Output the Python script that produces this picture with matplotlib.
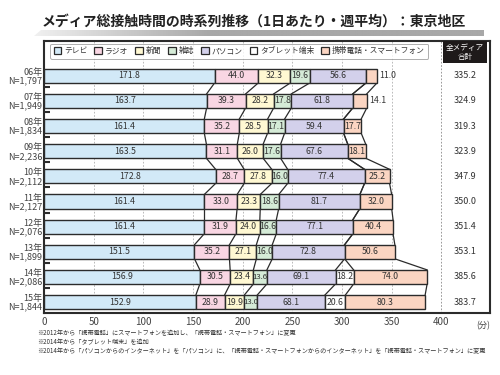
import numpy as np
import matplotlib
matplotlib.use('Agg')
import matplotlib.pyplot as plt
from matplotlib.patches import Polygon, Patch

plt.rcParams['font.family'] = ['Noto Sans CJK JP', 'DejaVu Sans']

# data
years = ['06年', '07年', '08年', '09年', '10年', '11年', '12年', '13年', '14年', '15年']
samples = ['1,797', '1,949', '1,834', '2,236', '2,112', '2,127', '2,076', '1,899', '2,086', '1,844']
media = ['テレビ', 'ラジオ', '新聞', '雑誌', 'パソコン', 'タブレット端末', '携帯電話・スマートフォン']
tv = [171.8, 163.7, 161.4, 163.5, 172.8, 161.4, 161.4, 151.5, 156.9, 152.9]
radio = [44.0, 39.3, 35.2, 31.1, 28.7, 33.0, 31.9, 35.2, 30.5, 28.9]
newspaper = [32.3, 28.2, 28.5, 26.0, 27.8, 23.3, 24.0, 27.1, 23.4, 19.9]
magazine = [19.6, 17.8, 17.1, 17.6, 16.0, 18.6, 16.6, 16.0, 13.6, 13.0]
pc = [56.6, 61.8, 59.4, 67.6, 77.4, 81.7, 77.1, 72.8, 69.1, 68.1]
tablet = [0, 0, 0, 0, 0, 0, 0, 0, 18.2, 20.6]  # not surveyed before 2014
mobile = [11.0, 14.1, 17.7, 18.1, 25.2, 32.0, 40.4, 50.6, 74.0, 80.3]
totals = [335.2, 324.9, 319.3, 323.9, 347.9, 350.0, 351.4, 353.1, 385.6, 383.7]
notes = ['※2012年から「携帯電話」にスマートフォンを追加し、「携帯電話・スマートフォン」に変更',
         '※2014年から「タブレット端末」を追加',
         '※2014年から「パソコンからのインターネット」を「パソコン」に、「携帯電話・スマートフォンからのインターネット」を「携帯電話・スマートフォン」に変更']

colors = ['#d2e9f7', '#f9d6e3', '#fff8d2', '#d5ebd7', '#d3d0eb', '#ffffff', '#fbd5c2']
edge = '#2b2b2b'
txt = '#333333'

series = np.array([tv, radio, newspaper, magazine, pc, tablet, mobile])
cum = np.cumsum(series, axis=0)
starts = cum - series
ypos = np.arange(len(years))
h = 0.56

fig = plt.figure(figsize=(5, 3.75), dpi=100)
ax = fig.add_axes([0.088, 0.165, 0.892, 0.726])

# grid lines
for gx in range(50, 401, 50):
    ax.axvline(gx, color='#b0b0b0' if gx < 400 else '#888888', lw=0.6,
               ls=(0, (2, 2)), zorder=0)

# bars and value labels
for k in range(len(media)):
    vals = series[k]
    m = vals > 0
    ax.barh(ypos[m], vals[m], left=starts[k][m], height=h, color=colors[k],
            edgecolor=edge, linewidth=1.0, zorder=3)
    for i in ypos[m]:
        v = vals[i]
        fs = 6.3 if v >= 15 else 5.6
        if k == 6 and v < 15:
            ax.text(cum[k][i] + 2, i, f'{v:.1f}', ha='left', va='center',
                    fontsize=6.3, color=txt, zorder=5)
        else:
            ax.text(starts[k][i] + v / 2, i, f'{v:.1f}', ha='center', va='center',
                    fontsize=fs, color=txt, zorder=5)

# lines joining segment borders of neighbouring years
for k in range(len(media)):
    for i in range(len(years) - 1):
        ax.plot([cum[k][i], cum[k][i + 1]], [i + h / 2, i + 1 - h / 2],
                color=edge, lw=0.9, zorder=2)

# total column
for i, t in enumerate(totals):
    ax.text(424, i, f'{t:.1f}', ha='center', va='center', fontsize=6.5, color=txt)
ax.text(424, -0.93, '全メディア\n合計', ha='center', va='center', fontsize=5.5,
        color='white', linespacing=1.1,
        bbox=dict(boxstyle='square,pad=0.35', facecolor='#1e1a1a', edgecolor='none'))

ax.set_xlim(0, 449)
ax.set_ylim(len(years) - 1 + 0.44, -1.39)
ax.set_xticks(range(0, 401, 50))
ax.tick_params(axis='x', length=0, labelsize=7, labelcolor='#444444', pad=3)
ax.set_yticks(ypos)
ax.set_yticklabels([f'{y}\nN={n}' for y, n in zip(years, samples)],
                   fontsize=6.5, color='#444444', linespacing=0.95, ha='right')
ax.tick_params(axis='y', length=0, pad=1)
ax.set_yticks(ypos[:-1] + 0.44, minor=True)
ax.tick_params(axis='y', which='minor', direction='in', length=4, width=1.5, color=edge)
for s in ax.spines.values():
    s.set_color(edge)
    s.set_linewidth(1.5)
ax.text(1.0, -0.03, '(分)', transform=ax.transAxes, ha='right', va='top',
        fontsize=6, color='#444444')

# legend
handles = [Patch(facecolor=c, edgecolor=edge, linewidth=0.9) for c in colors]
leg = ax.legend(handles, media, ncol=7, loc='upper left', bbox_to_anchor=(0.0135, 0.99),
                borderaxespad=0, fontsize=5.6, handlelength=1.0, handleheight=1.0,
                handletextpad=0.35, columnspacing=0.9, borderpad=0.45,
                frameon=True, fancybox=True)
leg.get_frame().set_edgecolor('#999999')
leg.get_frame().set_linewidth(0.7)
for t in leg.get_texts():
    t.set_color(txt)
leg.set_zorder(6)

# title with grey gradient band below
fig.text(0.508, 0.942, 'メディア総接触時間の時系列推移（1日あたり・週平均）：東京地区',
         ha='center', va='center', fontsize=10, fontweight='bold', color='#222222')
band = fig.add_axes([0.05, 0.904, 0.918, 0.016])
band.axis('off')
grad = np.linspace(0, 1, 256)
grad = np.vstack([np.minimum(grad * 2.5, 1.0), np.minimum(grad * 2.5, 1.0)])
img = band.imshow(grad, aspect='auto', cmap=matplotlib.colors.LinearSegmentedColormap.from_list(
    'g', ['#f4f4f4', '#a8a8a8']), extent=(0, 1, 0, 1))
clip = Polygon([(0.02, 0), (1, 0), (1, 1), (0.035, 1)], closed=True,
               transform=band.transAxes, facecolor='none', edgecolor='none')
band.add_patch(clip)
img.set_clip_path(clip)
band.set_xlim(0, 1)
band.set_ylim(0, 1)

# footnotes
for j, n in enumerate(notes):
    fig.text(0.074, 1 - (333 + j * 9) / 375, n, ha='left', va='center',
             fontsize=4.45, color='#333333')

fig.savefig('out.png', dpi=100)
